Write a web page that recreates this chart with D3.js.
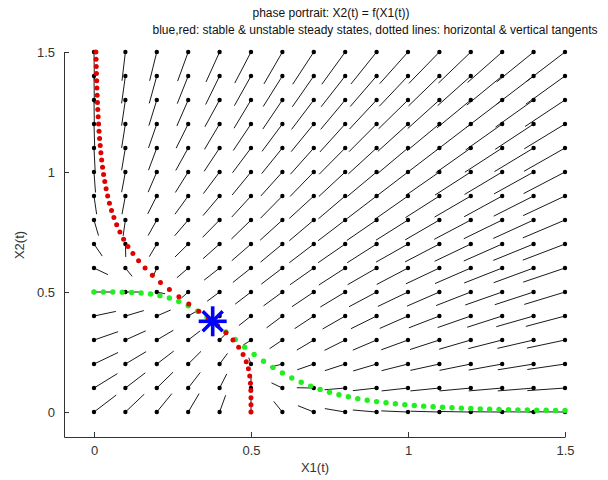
<!DOCTYPE html>
<html><head><meta charset="utf-8">
<script src="https://cdn.jsdelivr.net/npm/d3@7/dist/d3.min.js"></script>
<style>
html,body{margin:0;padding:0;background:#fff;}
svg{display:block;font-family:"Liberation Sans",Arial,sans-serif;}
</style></head>
<body><svg id="chart" width="608" height="480"></svg>
<script>
// ---- data ----
const titleLines = ["phase portrait: X2(t) = f(X1(t))",
  "blue,red: stable & unstable steady states, dotted lines: horizontal & vertical tangents"];
const xLabel = "X1(t)", yLabel = "X2(t)";
const tickValues = [0, 0.5, 1, 1.5];
const tickLabels = ["0", "0.5", "1", "1.5"];
// grid of starting points
const gridX = [0,0.1,0.2,0.3,0.4,0.5,0.6,0.7,0.8,0.9,1.0,1.1,1.2,1.3,1.4,1.5];
const gridY = [0,0.1,0.2,0.3,0.4,0.5,0.6,0.7,0.8,0.9,1.0,1.1,1.2,1.3,1.4,1.5];
// trajectory displacement per grid point (rows = gridY index, cols = gridX index)
const dxRows = [
 [.059,.050,.040,.029,.016,0,-.023,-.042,-.054,-.063,-.071,-.077,-.084,-.089,-.095,-.100],
 [.062,.053,.043,.032,.019,0,-.029,-.045,-.055,-.063,-.070,-.077,-.083,-.089,-.095,-.100],
 [.064,.055,.045,.034,.021,-.006,-.033,-.044,-.054,-.062,-.070,-.077,-.083,-.089,-.095,-.100],
 [.064,.054,.044,.032,.016,-.021,-.034,-.045,-.055,-.063,-.071,-.078,-.084,-.090,-.096,-.101],
 [.058,.049,.037,.021,-.018,-.032,-.042,-.051,-.060,-.068,-.075,-.081,-.088,-.093,-.099,-.104],
 [.050,.039,.022,-.018,-.033,-.042,-.050,-.058,-.066,-.073,-.080,-.086,-.092,-.098,-.103,-.108],
 [.037,.018,-.011,-.030,-.041,-.048,-.056,-.063,-.070,-.077,-.083,-.089,-.095,-.101,-.106,-.111],
 [.022,.001,-.020,-.035,-.044,-.051,-.058,-.065,-.072,-.078,-.085,-.091,-.096,-.102,-.107,-.112],
 [.012,-.006,-.023,-.036,-.045,-.052,-.059,-.065,-.072,-.079,-.085,-.091,-.097,-.102,-.107,-.112],
 [.007,-.009,-.024,-.035,-.044,-.051,-.058,-.065,-.071,-.078,-.084,-.090,-.096,-.101,-.106,-.111],
 [.004,-.010,-.023,-.034,-.043,-.050,-.057,-.063,-.070,-.077,-.083,-.089,-.095,-.100,-.105,-.110],
 [.003,-.010,-.022,-.033,-.041,-.049,-.055,-.062,-.069,-.075,-.081,-.087,-.093,-.099,-.104,-.109],
 [.002,-.010,-.022,-.032,-.040,-.047,-.054,-.060,-.067,-.073,-.080,-.086,-.092,-.097,-.102,-.108],
 [.001,-.010,-.021,-.030,-.039,-.045,-.052,-.059,-.065,-.072,-.078,-.084,-.090,-.096,-.101,-.106],
 [.001,-.010,-.020,-.029,-.037,-.044,-.051,-.057,-.064,-.070,-.076,-.082,-.088,-.094,-.099,-.104],
 [.001,-.009,-.019,-.028,-.036,-.043,-.049,-.056,-.062,-.068,-.075,-.081,-.086,-.092,-.098,-.103]
];
const dyRows = [
 [.059,.062,.064,.064,.058,.050,.037,.022,.012,.007,.004,.003,.002,.001,.001,.001],
 [.050,.053,.055,.054,.049,.039,.018,.001,-.006,-.009,-.010,-.010,-.010,-.010,-.010,-.009],
 [.040,.043,.045,.044,.037,.022,-.011,-.020,-.023,-.024,-.023,-.022,-.022,-.021,-.020,-.019],
 [.029,.032,.034,.032,.021,-.018,-.030,-.035,-.036,-.035,-.034,-.033,-.032,-.030,-.029,-.028],
 [.016,.019,.021,.016,-.018,-.033,-.041,-.044,-.045,-.044,-.043,-.041,-.040,-.039,-.037,-.036],
 [0,0,-.006,-.021,-.032,-.042,-.048,-.051,-.052,-.051,-.050,-.049,-.047,-.045,-.044,-.043],
 [-.023,-.029,-.033,-.034,-.042,-.050,-.056,-.058,-.059,-.058,-.057,-.055,-.054,-.052,-.051,-.049],
 [-.042,-.045,-.044,-.045,-.051,-.058,-.063,-.065,-.065,-.065,-.063,-.062,-.060,-.059,-.057,-.056],
 [-.054,-.055,-.054,-.055,-.060,-.066,-.070,-.072,-.072,-.071,-.070,-.069,-.067,-.065,-.064,-.062],
 [-.063,-.063,-.062,-.063,-.068,-.073,-.077,-.078,-.079,-.078,-.077,-.075,-.073,-.072,-.070,-.068],
 [-.071,-.070,-.070,-.071,-.075,-.080,-.083,-.085,-.085,-.084,-.083,-.081,-.080,-.078,-.076,-.075],
 [-.077,-.077,-.077,-.078,-.081,-.086,-.089,-.091,-.091,-.090,-.089,-.087,-.086,-.084,-.082,-.081],
 [-.084,-.083,-.083,-.084,-.088,-.092,-.095,-.096,-.097,-.096,-.095,-.093,-.092,-.090,-.088,-.086],
 [-.089,-.089,-.089,-.090,-.093,-.098,-.101,-.102,-.102,-.101,-.100,-.099,-.097,-.096,-.094,-.092],
 [-.095,-.095,-.095,-.096,-.099,-.103,-.106,-.107,-.107,-.106,-.105,-.104,-.103,-.101,-.099,-.098],
 [-.100,-.100,-.100,-.101,-.104,-.108,-.111,-.112,-.112,-.111,-.110,-.109,-.108,-.106,-.104,-.103]
];
// tangent curve samples: green = (tanS, tanF), red = (tanF, tanS)
const tanS = [0,.03,.06,.09,.12,.15,.18,.21,.24,.27,.30,.33,.36,.39,.42,.45,.48,.51,.54,.57,.60,.63,.66,.69,.72,.75,.78,.81,.84,.87,.90,.93,.96,.99,1.02,1.05,1.08,1.11,1.14,1.17,1.20,1.23,1.26,1.29,1.32,1.35,1.38,1.41,1.44,1.47,1.50];
const tanF = [.5,.5,.4999,.4995,.4983,.496,.4917,.4849,.4748,.4608,.4426,.4203,.3941,.3649,.3338,.3019,.2704,.2401,.2118,.1859,.1627,.142,.1239,.1081,.0943,.0825,.0722,.0634,.0558,.0492,.0435,.0386,.0343,.0305,.0273,.0245,.022,.0198,.0178,.0161,.0146,.0133,.0121,.011,.0101,.0092,.0085,.0078,.0072,.0066,.0061];
const steadyState = [0.378, 0.378];
const xLimits = [-0.0955, 1.5], yLimits = [-0.104, 1.5];

// ---- drawing ----
const arrowScale = 1.2; // display scale of the trajectory segments
const svg = d3.select("#chart");
const x = d3.scaleLinear().domain(xLimits).range([64, 565]);
const y = d3.scaleLinear().domain(yLimits).range([437, 52]);

// vector field segments
const pts = [];
gridY.forEach((gy, j) => gridX.forEach((gx, i) => pts.push({x: gx, y: gy, dx: dxRows[j][i], dy: dyRows[j][i]})));
const field = svg.append("g");
field.selectAll("line").data(pts).join("line")
  .attr("x1", d => x(d.x)).attr("y1", d => y(d.y))
  .attr("x2", d => x(d.x + arrowScale * d.dx)).attr("y2", d => y(d.y + arrowScale * d.dy))
  .attr("stroke", "#1a1a1a").attr("stroke-width", 1);

// tangent curves
const tan = tanS.map((s, k) => ({s, f: tanF[k]}));
svg.append("g").selectAll("circle").data(tan).join("circle")
  .attr("cx", d => x(d.s)).attr("cy", d => y(d.f)).attr("r", 2.7).attr("fill", "#22ee22");
svg.append("g").selectAll("circle").data(tan).join("circle")
  .attr("cx", d => x(d.f)).attr("cy", d => y(d.s)).attr("r", 2.5).attr("fill", "#e00000");

// grid dots
field.selectAll("circle").data(pts).join("circle")
  .attr("cx", d => x(d.x)).attr("cy", d => y(d.y)).attr("r", 2.2).attr("fill", "#000");

// steady state star
const sx = x(steadyState[0]), sy = y(steadyState[1]);
const star = svg.append("g").attr("stroke", "#0000ff").attr("stroke-width", 3.6).attr("stroke-linecap", "butt");
[[0,-15,0,15],[-14,0,14,0],[-10,-10,10,10],[-10,10,10,-10]].forEach(s =>
  star.append("line").attr("x1", sx + s[0]).attr("y1", sy + s[1]).attr("x2", sx + s[2]).attr("y2", sy + s[3]));

// axes
const fmt = v => tickLabels[tickValues.indexOf(v)];
const ax = svg.append("g").attr("transform", `translate(0,${y(yLimits[0])})`)
  .call(d3.axisBottom(x).tickValues(tickValues).tickFormat(fmt).tickSizeInner(-5).tickSizeOuter(0).tickPadding(9));
const ay = svg.append("g").attr("transform", `translate(${x(xLimits[0])},0)`)
  .call(d3.axisLeft(y).tickValues(tickValues).tickFormat(fmt).tickSizeInner(-5).tickSizeOuter(0).tickPadding(9));
[ax, ay].forEach(g => {
  g.select(".domain").attr("stroke", "#333");
  g.selectAll(".tick line").attr("stroke", "#333");
  g.selectAll("text").attr("fill", "#333").style("font-size", "13px").style("font-family", "'Liberation Sans',Arial,sans-serif");
});

// labels
svg.append("text").attr("x", 315).attr("y", 472).attr("text-anchor", "middle")
  .style("font-size", "13px").attr("fill", "#333").text(xLabel);
svg.append("text").attr("transform", "translate(24,245) rotate(-90)").attr("text-anchor", "middle")
  .style("font-size", "13px").attr("fill", "#333").text(yLabel);
svg.append("text").attr("x", 331).attr("y", 17).attr("text-anchor", "middle")
  .style("font-size", "12px").attr("fill", "#111").text(titleLines[0]);
svg.append("text").attr("x", 375).attr("y", 34).attr("text-anchor", "middle")
  .style("font-size", "12px").attr("fill", "#111").text(titleLines[1]);
</script></body></html>
